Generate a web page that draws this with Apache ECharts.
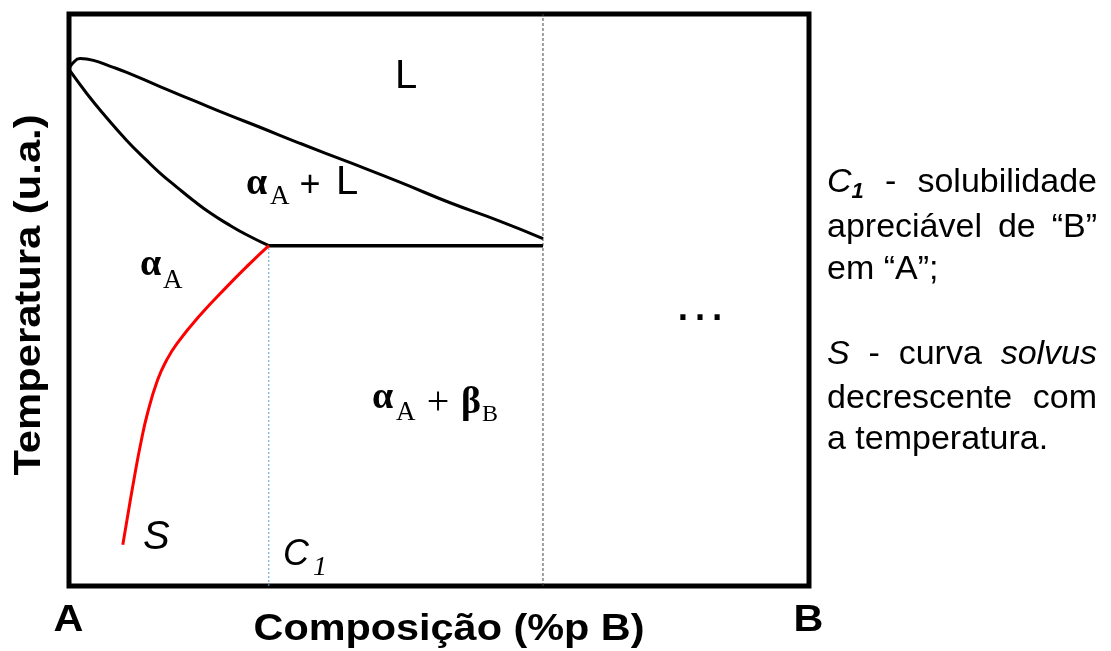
<!DOCTYPE html>
<html>
<head>
<meta charset="utf-8">
<script src="https://cdn.jsdelivr.net/npm/echarts@6/dist/echarts.min.js"></script>
<style>
html,body{margin:0;padding:0;background:#fff;}
#chart{width:1111px;height:651px;}
</style>
</head>
<body>
<div id="chart"></div>
<script>
// Composition (%p B) and temperature (u.a.)
const liquidusX = [0, 0.5, 1.5, 3.3, 5.5, 7.8, 12.3, 16.8, 21.3, 25.8, 31.2, 38.0, 44.7, 51.5, 58.2, 64.05];
const liquidusT = [90.3, 91.4, 92.2, 91.9, 90.9, 89.8, 87.3, 84.9, 82.5, 80.2, 77.4, 74.0, 70.6, 67.0, 63.8, 60.75];
const solidusX = [0, 2.4, 4.6, 7.8, 10.5, 12.3, 14.6, 16.8, 19.1, 21.3, 24.0, 27.0];
const solidusT = [90.3, 86.1, 82.6, 77.9, 74.4, 72.2, 69.7, 67.4, 65.2, 63.4, 61.4, 59.5];
const solvusX = [7.27, 7.99, 8.76, 9.69, 10.61, 11.97, 13.2, 14.61, 17.55, 21.31, 24.47, 27.0];
const solvusT = [7.2, 12.7, 18.5, 24.9, 30.2, 36.0, 39.5, 42.4, 47.1, 52.3, 56.4, 59.5];
const eutecticX = [27.0, 64.05];
const eutecticT = [59.5, 59.5];
const c1X = [27.0, 27.0];
const c1T = [0, 59.5];
const limitX = [64.05, 64.05];
const limitT = [0, 100];

const zip = (xs, ys) => xs.map((x, i) => [x, ys[i]]);

const SANS = '"Liberation Sans", Arial, sans-serif';
const SERIF = '"Liberation Serif", "Times New Roman", serif';

function txt(text, x, y, size, opts) {
  opts = opts || {};
  return {
    type: 'text', x: x, y: y, rotation: opts.rotation || 0, scaleX: opts.scaleX || 1, z: 100,
    style: {
      text: text,
      fill: '#000',
      fontSize: size,
      fontFamily: opts.family || SANS,
      fontWeight: opts.weight || 'normal',
      fontStyle: opts.style || 'normal',
      align: opts.align || 'left',
      verticalAlign: 'middle',
      textAlign: opts.align || 'left',
      textVerticalAlign: 'middle'
    }
  };
}

// measure text for justified note lines
const mctx = document.createElement('canvas').getContext('2d');
function measure(p) {
  mctx.font = (p.style || 'normal') + ' ' + (p.weight || 'normal') + ' ' + p.size + 'px ' + (p.family || SANS);
  return mctx.measureText(p.text).width;
}
function justify(words, y, left, right, justifyIt) {
  const widths = words.map(w => w.reduce((s, p) => s + measure(p), 0));
  const total = widths.reduce((a, b) => a + b, 0);
  let gap = measure({text: ' ', size: words[0][0].size});
  if (justifyIt && words.length > 1) gap = (right - left - total) / (words.length - 1);
  const out = [];
  let x = left;
  words.forEach((w, i) => {
    let px = x;
    w.forEach(p => {
      out.push(txt(p.text, px, y + (p.dy || 0), p.size, {style: p.style, weight: p.weight, family: p.family}));
      px += measure(p);
    });
    x += widths[i] + gap;
  });
  return out;
}

const NS = 34;
const w = (t, extra) => [Object.assign({text: t, size: NS}, extra || {})];
const noteLeft = 827, noteRight = 1097;
const note = [].concat(
  justify([[{text: 'C', size: NS, style: 'italic'}, {text: '1', size: 22, style: 'italic', weight: 'bold', dy: 9}], w('-'), w('solubilidade')], 183, noteLeft, noteRight, true),
  justify([w('apreciável'), w('de'), w('“B”')], 227.5, noteLeft, noteRight, true),
  justify([w('em'), w('“A”;')], 269.5, noteLeft, noteRight, false),
  justify([w('S', {style: 'italic'}), w('-'), w('curva'), w('solvus', {style: 'italic'})], 354.5, noteLeft, noteRight, true),
  justify([w('decrescente'), w('com')], 398.5, noteLeft, noteRight, true),
  justify([w('a'), w('temperatura.')], 439.5, noteLeft, noteRight, false)
);

const chart = echarts.init(document.getElementById('chart'), null, {renderer: 'canvas'});
chart.setOption({
  animation: false,
  backgroundColor: '#fff',
  grid: {left: 69, top: 14, width: 740, height: 572, show: true, borderColor: '#000', borderWidth: 5, backgroundColor: 'transparent'},
  xAxis: {type: 'value', min: 0, max: 100, show: false},
  yAxis: {type: 'value', min: 0, max: 100, show: false},
  series: [
    {type: 'line', data: zip(limitX, limitT), showSymbol: false, lineStyle: {color: '#444', width: 1, type: [3, 2]}},
    {type: 'line', data: zip(c1X, c1T), showSymbol: false, lineStyle: {color: '#5b9bd5', width: 1, type: [2, 2]}},
    {type: 'line', data: zip(liquidusX, liquidusT), showSymbol: false, smooth: 0.5, lineStyle: {color: '#000', width: 3}},
    {type: 'line', data: zip(solidusX, solidusT), showSymbol: false, smooth: 0.5, lineStyle: {color: '#000', width: 3}},
    {type: 'line', data: zip(eutecticX, eutecticT), showSymbol: false, lineStyle: {color: '#000', width: 3.5}},
    {type: 'line', data: zip(solvusX, solvusT), showSymbol: false, smooth: 0.5, lineStyle: {color: '#ff0000', width: 3}}
  ],
  graphic: [
    // region labels
    txt('L', 406, 77, 40, {align: 'center'}),
    txt('α', 246, 184, 38, {family: SERIF, weight: 'bold'}),
    txt('A', 270, 197, 27, {family: SERIF}),
    txt('+', 310, 186, 36, {align: 'center'}),
    txt('L', 336, 183, 40),
    txt('α', 140, 265, 38, {family: SERIF, weight: 'bold'}),
    txt('A', 163, 281, 27, {family: SERIF}),
    txt('α', 372, 398, 38, {family: SERIF, weight: 'bold'}),
    txt('A', 396, 413, 27, {family: SERIF}),
    txt('+', 438, 403, 40, {family: SERIF, align: 'center'}),
    txt('β', 461, 403, 38, {family: SERIF, weight: 'bold'}),
    txt('B', 482, 415, 24, {family: SERIF}),
    txt('S', 143, 538, 40, {style: 'italic'}),
    txt('C', 283, 555, 36, {style: 'italic'}),
    txt('1', 313, 568, 28, {family: SERIF, style: 'italic'}),
    txt('…', 700, 305, 54, {align: 'center'}),
    // axis labels
    txt('A', 68.5, 621, 36, {weight: 'bold', align: 'center', scaleX: 1.15}),
    txt('B', 808.5, 621, 36, {weight: 'bold', align: 'center', scaleX: 1.15}),
    txt('Composição (%p B)', 449, 630, 36, {weight: 'bold', align: 'center', scaleX: 1.15}),
    txt('Temperatura (u.a.)', 30, 295, 36, {weight: 'bold', align: 'center', rotation: Math.PI / 2, scaleX: 1.16})
  ].concat(note)
});
</script>
</body>
</html>
